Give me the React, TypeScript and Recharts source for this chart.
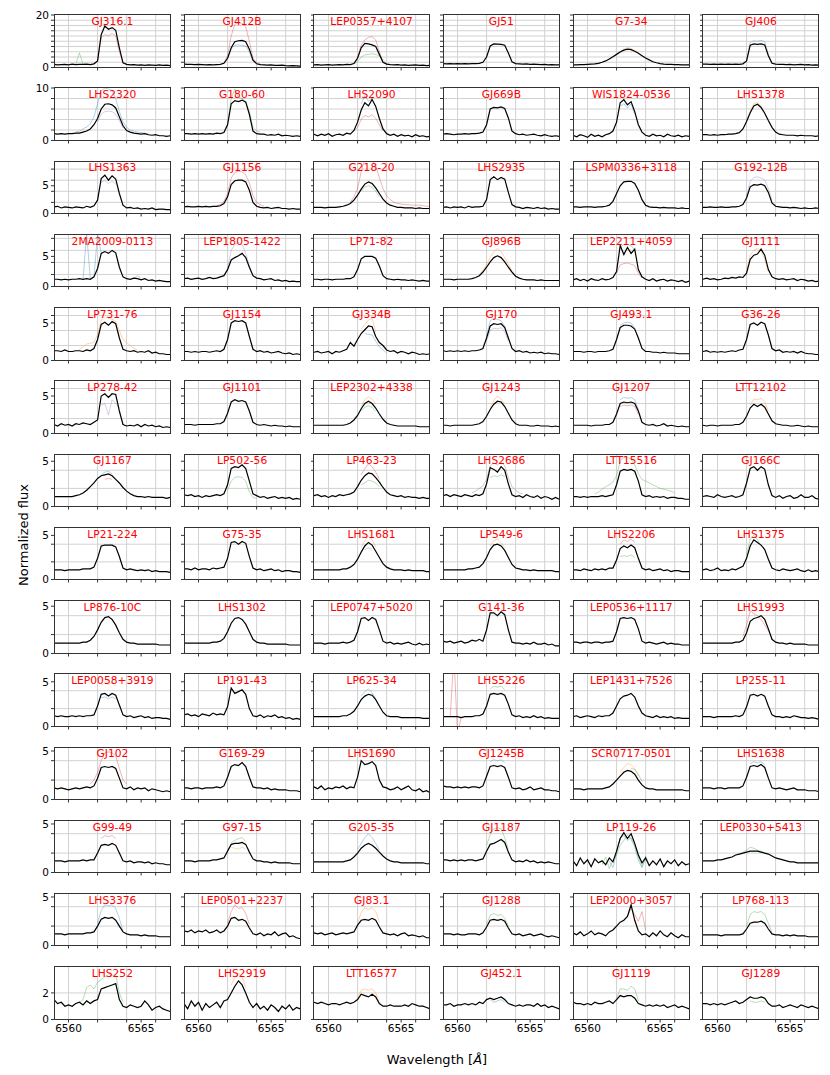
import { CartesianGrid, Line, LineChart, XAxis, YAxis } from 'recharts'

// wavelength grid shared by every panel (Angstrom)
const WAVE = [
  6559.0, 6559.25, 6559.5, 6559.75, 6560.0, 6560.25, 6560.5, 6560.75, 6561.0, 6561.25, 6561.5,
  6561.75, 6562.0, 6562.25, 6562.5, 6562.75, 6563.0, 6563.25, 6563.5, 6563.75, 6564.0, 6564.25,
  6564.5, 6564.75, 6565.0, 6565.25, 6565.5, 6565.75, 6566.0, 6566.25, 6566.5, 6566.75, 6567.0,
]

const STARS_R01 = ['GJ316.1', 'GJ412B', 'LEP0357+4107', 'GJ51', 'G7-34', 'GJ406']
const STARS_R02 = ['LHS2320', 'G180-60', 'LHS2090', 'GJ669B', 'WIS1824-0536', 'LHS1378']
const STARS_R03 = ['LHS1363', 'GJ1156', 'G218-20', 'LHS2935', 'LSPM0336+3118', 'G192-12B']
const STARS_R04 = ['2MA2009-0113', 'LEP1805-1422', 'LP71-82', 'GJ896B', 'LEP2211+4059', 'GJ1111']
const STARS_R05 = ['LP731-76', 'GJ1154', 'GJ334B', 'GJ170', 'GJ493.1', 'G36-26']
const STARS_R06 = ['LP278-42', 'GJ1101', 'LEP2302+4338', 'GJ1243', 'GJ1207', 'LTT12102']
const STARS_R07 = ['GJ1167', 'LP502-56', 'LP463-23', 'LHS2686', 'LTT15516', 'GJ166C']
const STARS_R08 = ['LP21-224', 'G75-35', 'LHS1681', 'LP549-6', 'LHS2206', 'LHS1375']
const STARS_R09 = ['LP876-10C', 'LHS1302', 'LEP0747+5020', 'G141-36', 'LEP0536+1117', 'LHS1993']
const STARS_R10 = ['LEP0058+3919', 'LP191-43', 'LP625-34', 'LHS5226', 'LEP1431+7526', 'LP255-11']
const STARS_R11 = ['GJ102', 'G169-29', 'LHS1690', 'GJ1245B', 'SCR0717-0501', 'LHS1638']
const STARS_R12 = ['G99-49', 'G97-15', 'G205-35', 'GJ1187', 'LP119-26', 'LEP0330+5413']
const STARS_R13 = ['LHS3376', 'LEP0501+2237', 'GJ83.1', 'GJ1288', 'LEP2000+3057', 'LP768-113']
const STARS_R14 = ['LHS252', 'LHS2919', 'LTT16577', 'GJ452.1', 'GJ1119', 'GJ1289']

// mean normalized flux (black curve), one list per star, on WAVE
const FLUX_R01 = [
  [1.2,1.0,1.1,1.2,1.0,1.3,1.1,1.2,1.2,1.3,1.1, 1.4,2.5,12.5,15.8,14.6,15.2,14.2,7.5,1.8,1.2,1.0, 1.1,0.9,1.0,0.8,1.0,0.9,0.8,1.0,0.8,0.9,0.7],
  [1.3,1.2,1.2,1.1,1.2,1.1,1.0,1.1,1.0,1.1,1.2, 1.6,3.5,7.5,9.8,10.2,10.3,9.8,7.0,2.8,1.4,1.1, 1.0,0.9,1.0,0.8,0.8,0.9,0.7,0.6,0.7,0.6,0.5],
  [1.0,1.1,0.9,1.0,1.1,0.9,1.0,1.1,1.0,1.2,1.1, 1.5,3.5,7.5,9.2,9.0,8.6,8.0,5.0,2.0,1.3,1.1, 1.0,1.1,0.9,1.0,0.8,0.9,1.0,0.8,0.9,0.7,0.8],
  [1.5,1.4,1.5,1.4,1.5,1.4,1.5,1.4,1.5,1.5,1.6, 2.0,4.0,8.2,9.0,8.9,8.8,8.5,5.5,2.2,1.5,1.4, 1.3,1.4,1.2,1.3,1.2,1.1,1.2,1.0,1.1,1.0,1.0],
  [1.0,1.0,1.1,1.1,1.2,1.3,1.4,1.6,2.0,2.5,3.2, 4.1,5.0,5.9,6.6,7.0,6.8,6.2,5.4,4.5,3.6,2.9, 2.2,1.8,1.5,1.3,1.2,1.2,1.1,1.1,1.0,1.0,1.0],
  [1.3,1.3,1.2,1.3,1.2,1.3,1.2,1.3,1.2,1.3,1.2, 1.4,2.5,8.5,9.0,8.8,9.0,8.6,4.5,1.6,1.3,1.2, 1.2,1.1,1.2,1.0,1.1,1.2,1.0,1.1,0.9,1.0,0.9],
]
const FLUX_R02 = [
  [1.3,1.2,1.3,1.2,1.3,1.3,1.4,1.4,1.6,1.8,2.2, 3.0,4.2,6.0,6.9,7.0,6.8,6.2,4.5,2.8,1.9,1.6, 1.4,1.3,1.2,1.3,1.1,1.0,1.1,0.9,0.9,0.8,0.9],
  [1.3,1.3,1.2,1.3,1.2,1.3,1.2,1.3,1.2,1.4,1.3, 1.5,3.0,7.0,7.6,7.4,7.7,7.3,5.0,1.8,1.3,1.2, 1.2,1.0,1.1,1.0,1.2,0.9,1.0,0.9,0.8,0.9,0.8],
  [1.2,0.9,1.2,1.0,1.3,0.8,1.1,1.2,1.0,1.4,1.2, 1.9,3.5,5.8,7.2,6.6,7.8,6.5,4.2,2.2,1.3,1.0, 1.2,0.8,1.1,0.9,1.0,0.7,1.1,0.8,0.9,0.7,0.8],
  [1.2,1.3,1.2,1.1,1.2,1.2,1.3,1.2,1.3,1.3,1.4, 1.6,3.0,6.0,6.3,6.2,6.4,6.1,4.3,1.8,1.3,1.1, 1.2,1.0,1.1,1.2,1.0,0.9,1.1,0.9,0.8,0.9,0.8],
  [1.0,0.7,1.1,0.9,0.6,1.2,0.8,1.0,0.7,1.1,1.3, 1.8,3.5,7.2,7.8,6.8,7.4,5.5,3.0,1.6,1.0,0.8, 1.2,0.9,1.0,0.7,1.2,0.9,0.8,1.0,0.7,0.9,0.8],
  [1.1,1.1,1.0,1.1,1.0,1.1,1.1,1.2,1.2,1.3,1.5, 2.2,3.6,5.3,6.6,6.9,6.3,5.2,3.8,2.5,1.6,1.2, 1.1,1.0,1.0,1.0,0.9,1.0,0.9,0.9,0.9,0.8,0.9],
]
const FLUX_R03 = [
  [1.2,1.3,1.0,1.2,1.1,1.0,1.2,1.1,1.0,1.3,1.1, 1.4,2.4,6.3,6.9,6.0,6.8,6.2,3.6,1.5,1.0,1.1, 0.9,1.0,0.8,0.9,0.8,1.0,0.7,0.8,0.8,0.7,0.7],
  [1.2,1.3,1.2,1.2,1.3,1.2,1.3,1.2,1.3,1.3,1.4, 1.8,3.0,5.2,5.9,6.0,6.0,5.7,4.2,2.0,1.3,1.1, 1.0,1.1,0.9,1.0,1.1,0.9,0.9,0.8,0.9,0.8,0.8],
  [1.1,1.1,1.1,1.0,1.1,1.1,1.1,1.2,1.3,1.5,1.8, 2.4,3.3,4.4,5.3,5.7,5.4,4.6,3.6,2.6,1.9,1.5, 1.3,1.1,1.1,1.0,1.0,1.0,0.9,1.0,0.9,0.9,0.9],
  [1.1,1.2,1.0,1.2,1.1,1.2,1.0,1.3,1.1,1.2,1.2, 1.3,2.5,6.1,6.6,6.1,6.5,6.2,3.8,1.6,1.2,1.1, 0.9,1.1,1.0,0.9,1.1,0.9,1.0,0.8,0.9,0.8,0.8],
  [1.2,1.2,1.1,1.2,1.2,1.2,1.1,1.2,1.2,1.3,1.5, 2.2,3.6,5.0,5.7,5.8,5.8,5.4,4.2,2.5,1.5,1.2, 1.1,1.1,1.0,1.1,1.0,1.0,1.0,0.9,1.0,0.9,0.9],
  [1.1,1.1,1.2,1.1,1.1,1.2,1.1,1.1,1.2,1.2,1.3, 1.6,2.8,4.8,5.2,5.1,5.3,5.0,3.8,1.9,1.3,1.2, 1.1,1.1,1.0,1.1,1.0,0.9,1.0,0.9,0.9,1.0,0.9],
]
const FLUX_R04 = [
  [1.2,1.2,1.1,1.2,1.1,1.2,1.2,1.3,1.2,1.3,1.2, 1.6,3.0,5.5,5.8,5.5,6.0,5.6,3.2,1.6,1.3,1.2, 1.4,1.3,1.1,1.3,1.0,1.1,0.9,1.0,0.9,0.8,0.8],
  [1.3,1.4,1.2,1.3,1.4,1.2,1.3,1.5,1.3,1.4,1.6, 1.8,2.8,4.4,4.8,5.1,5.5,4.8,3.2,1.8,1.4,1.3, 1.1,1.2,1.3,1.0,1.1,0.9,1.0,0.8,0.9,0.8,0.8],
  [1.2,1.2,1.1,1.2,1.2,1.1,1.2,1.2,1.2,1.3,1.3, 1.6,2.8,4.6,5.0,5.0,5.0,4.7,3.4,1.8,1.3,1.2, 1.1,1.2,1.1,1.1,1.0,1.1,1.0,0.9,1.0,0.9,0.9],
  [1.2,1.2,1.2,1.1,1.2,1.2,1.2,1.2,1.3,1.5,1.8, 2.4,3.2,4.1,4.8,5.1,4.8,4.1,3.2,2.4,1.7,1.4, 1.2,1.1,1.1,1.1,1.0,1.1,1.0,1.0,1.0,1.0,1.0],
  [1.1,1.3,1.0,1.2,0.9,1.3,1.1,1.0,1.3,1.1,1.2, 1.5,2.5,6.8,5.3,6.5,5.5,6.2,2.8,1.6,1.2,1.0, 1.3,0.9,1.1,1.2,0.9,1.1,1.0,0.8,1.0,0.7,0.9],
  [1.2,1.4,1.2,1.3,1.1,1.2,1.4,1.3,1.5,1.4,1.6, 1.5,2.2,4.5,5.2,5.4,6.2,5.2,2.8,1.6,1.3,1.2, 1.3,1.1,1.2,1.3,1.0,1.2,1.1,0.9,1.0,0.8,0.9],
]
const FLUX_R05 = [
  [1.3,1.3,1.2,1.4,1.2,1.2,1.3,1.3,1.2,1.4,1.3, 1.6,2.8,4.8,5.1,4.7,5.2,4.9,3.0,1.5,1.3,1.2, 1.3,1.1,1.2,1.1,1.3,1.0,1.1,0.9,0.9,0.8,0.8],
  [1.2,1.2,1.1,1.2,1.1,1.2,1.2,1.1,1.2,1.3,1.2, 1.5,2.8,5.0,5.3,5.2,5.3,5.0,3.2,1.5,1.2,1.3, 1.1,1.2,1.0,1.1,1.2,1.0,0.9,1.0,0.8,0.9,0.8],
  [1.1,1.2,1.0,1.1,1.2,0.9,1.2,1.1,1.3,1.5,2.4, 1.9,2.8,3.6,4.1,4.6,4.5,3.2,2.4,2.0,1.4,1.2, 1.3,1.0,1.2,1.1,0.9,1.1,1.0,0.8,0.9,0.8,0.9],
  [1.3,1.2,1.3,1.2,1.3,1.2,1.3,1.2,1.3,1.3,1.4, 1.6,3.0,4.6,4.9,4.8,4.9,4.4,3.0,1.6,1.2,1.3, 1.1,1.2,1.0,1.1,1.0,1.1,0.9,1.0,0.9,0.9,0.8],
  [1.2,1.2,1.2,1.1,1.2,1.2,1.1,1.2,1.2,1.2,1.3, 1.5,2.8,4.4,4.7,4.7,4.6,4.2,3.0,1.6,1.2,1.2, 1.1,1.1,1.0,1.1,1.0,1.0,1.0,0.9,0.9,0.9,0.9],
  [1.2,1.3,1.1,1.2,1.1,1.2,1.1,1.2,1.3,1.2,1.4, 1.5,2.8,4.8,5.0,4.7,5.1,4.9,3.4,1.6,1.3,1.4, 1.1,1.2,1.1,1.2,1.0,1.2,1.0,0.9,0.9,0.8,0.8],
]
const FLUX_R06 = [
  [1.2,1.0,1.3,1.1,1.2,1.0,1.3,1.2,1.4,1.3,1.2, 1.5,1.8,5.0,5.3,4.8,5.3,5.2,3.0,1.2,1.0,1.1, 1.0,1.2,0.9,1.2,1.0,1.1,0.9,1.0,0.8,0.9,0.8],
  [1.2,1.2,1.2,1.1,1.2,1.2,1.2,1.2,1.2,1.3,1.3, 1.6,2.7,4.2,4.5,4.3,4.4,4.2,3.0,1.5,1.2,1.1, 1.2,1.1,1.0,1.1,1.0,1.0,0.9,1.0,0.9,0.9,0.9],
  [1.1,1.1,1.1,1.1,1.1,1.1,1.1,1.1,1.1,1.2,1.4, 1.8,2.4,3.3,4.0,4.3,4.0,3.4,2.6,1.9,1.4,1.2, 1.1,1.0,1.0,1.0,1.0,1.0,1.0,0.9,0.9,0.9,0.9],
  [1.1,1.1,1.0,1.1,1.1,1.1,1.1,1.1,1.1,1.2,1.3, 1.6,2.3,3.2,3.9,4.3,4.2,3.6,2.7,1.8,1.3,1.1, 1.1,1.1,1.0,1.0,1.1,1.0,1.0,1.0,0.9,1.0,0.9],
  [1.1,1.1,1.1,1.1,1.1,1.0,1.1,1.1,1.1,1.2,1.2, 1.5,2.6,4.0,4.2,4.1,4.2,4.0,3.0,1.5,1.2,1.1, 1.2,1.0,1.1,1.3,1.0,1.1,1.0,0.9,1.0,0.9,0.9],
  [1.1,1.0,1.1,1.1,1.0,1.1,1.1,1.1,1.1,1.2,1.2, 1.5,2.3,3.4,3.9,3.6,3.9,3.5,2.6,1.7,1.3,1.2, 1.1,1.1,1.0,1.0,1.1,1.0,0.9,1.0,0.9,0.9,0.9],
]
const FLUX_R07 = [
  [1.1,1.1,1.1,1.1,1.1,1.1,1.2,1.3,1.5,1.8,2.2, 2.6,3.1,3.4,3.5,3.6,3.4,3.0,2.6,2.1,1.7,1.4, 1.2,1.1,1.1,1.0,1.1,1.0,1.0,1.0,1.0,0.9,1.0],
  [1.3,1.2,1.3,1.1,1.2,1.0,1.2,1.1,1.2,1.3,1.2, 1.4,2.4,4.2,4.4,4.3,4.6,4.2,2.8,1.4,1.2,1.0, 1.1,0.9,1.0,1.1,0.9,1.0,0.9,1.0,0.8,0.9,0.8],
  [1.2,1.3,1.1,1.2,1.0,1.2,1.1,1.3,1.2,1.3,1.4, 1.6,2.2,2.9,3.4,3.7,3.6,3.2,2.7,2.1,1.6,1.3, 1.2,1.1,1.2,1.0,1.1,1.0,1.0,0.9,1.0,0.9,0.9],
  [1.2,1.3,1.1,1.3,1.2,1.1,1.3,1.2,1.1,1.3,1.2, 1.4,2.5,4.3,4.1,3.8,4.4,4.0,2.5,1.3,1.1,1.2, 1.0,1.3,1.1,1.0,1.2,0.9,1.1,1.0,0.8,1.0,0.8],
  [1.1,1.1,1.0,1.1,1.0,1.1,1.1,1.1,1.2,1.1,1.2, 1.3,2.4,3.9,4.1,4.0,4.1,3.9,2.8,1.3,1.1,1.2, 1.0,1.1,1.0,1.1,0.9,1.0,1.0,0.9,0.9,0.8,0.8],
  [1.1,1.2,1.1,1.0,1.3,1.1,1.0,1.1,1.2,1.0,1.1, 1.3,2.6,4.2,4.4,4.0,4.4,4.1,2.4,1.2,1.0,1.2, 0.9,1.1,1.2,0.9,1.0,1.3,1.0,1.0,1.2,0.9,0.8],
]
const FLUX_R08 = [
  [1.1,1.1,1.1,1.0,1.1,1.1,1.1,1.1,1.2,1.2,1.2, 1.4,2.4,3.8,3.9,3.9,3.9,3.7,2.6,1.3,1.1,1.2, 1.1,1.0,1.1,1.0,1.1,0.9,1.0,0.9,0.9,0.9,0.8],
  [1.2,1.2,1.1,1.3,1.1,1.2,1.2,1.1,1.3,1.2,1.3, 1.4,2.4,4.2,4.3,4.0,4.3,4.1,2.6,1.3,1.1,1.2, 1.0,1.1,1.2,1.0,1.1,0.9,1.0,1.0,0.9,0.9,0.8],
  [1.1,1.1,1.1,1.1,1.1,1.1,1.1,1.1,1.2,1.2,1.4, 1.7,2.3,3.1,3.8,4.2,3.9,3.2,2.5,1.8,1.4,1.2, 1.1,1.1,1.1,1.0,1.1,1.0,1.0,1.0,1.0,0.9,0.9],
  [1.1,1.1,1.1,1.1,1.1,1.1,1.1,1.2,1.2,1.3,1.4, 1.8,2.5,3.4,3.9,4.0,3.8,3.3,2.5,1.7,1.3,1.2, 1.1,1.1,1.0,1.1,1.0,1.0,1.0,1.0,1.0,0.9,0.9],
  [1.1,1.1,1.0,1.2,1.1,1.0,1.2,1.1,1.2,1.1,1.3, 1.3,2.2,3.5,3.8,3.6,3.9,3.6,2.4,1.3,1.1,1.2, 1.0,1.1,1.2,1.0,1.1,0.9,1.0,1.0,0.9,0.9,0.9],
  [1.1,1.2,1.0,1.1,1.3,1.0,1.1,1.0,1.2,1.1,1.3, 1.5,2.4,3.8,4.5,4.2,3.9,3.4,2.3,1.3,1.1,1.0, 1.2,1.1,1.0,1.1,1.2,1.0,0.9,1.1,0.9,1.0,0.9],
]
const FLUX_R09 = [
  [1.1,1.1,1.1,1.1,1.1,1.1,1.1,1.1,1.2,1.2,1.4, 1.8,2.5,3.3,3.8,3.9,3.6,3.0,2.2,1.5,1.2,1.1, 1.1,1.0,1.0,1.0,1.0,1.0,1.0,0.9,0.9,0.9,0.9],
  [1.1,1.1,1.1,1.1,1.1,1.1,1.1,1.1,1.2,1.2,1.3, 1.6,2.3,3.2,3.7,3.8,3.6,3.1,2.3,1.5,1.2,1.1, 1.1,1.0,1.0,1.0,1.0,1.0,1.0,0.9,0.9,0.9,0.9],
  [1.1,1.1,1.1,1.0,1.1,1.1,1.1,1.1,1.2,1.1,1.2, 1.4,2.3,3.7,3.8,3.5,3.8,3.6,2.5,1.3,1.1,1.2, 1.0,1.1,1.0,1.1,1.2,1.0,0.9,1.1,0.9,1.0,0.9],
  [1.3,1.2,1.3,1.1,1.2,1.3,1.1,1.2,1.4,1.3,1.5, 1.3,2.5,4.3,4.3,4.0,4.4,4.1,2.5,1.2,1.1,1.1, 1.0,1.1,1.0,1.2,1.0,1.0,1.1,0.9,1.0,0.8,0.8],
  [1.2,1.2,1.1,1.2,1.2,1.1,1.2,1.2,1.1,1.2,1.2, 1.3,2.3,3.7,3.8,3.7,3.8,3.6,2.6,1.3,1.1,1.2, 1.1,1.0,1.1,1.2,1.0,1.1,1.0,1.0,0.9,0.9,0.9],
  [1.1,1.1,1.1,1.1,1.1,1.1,1.1,1.1,1.1,1.2,1.2, 1.4,2.2,3.4,3.7,3.8,4.0,3.6,2.6,1.5,1.2,1.1, 1.1,1.0,1.1,1.0,1.0,1.0,1.0,0.9,0.9,0.9,0.9],
]
const FLUX_R10 = [
  [1.2,1.1,1.2,1.1,1.1,1.2,1.1,1.2,1.1,1.2,1.2, 1.3,2.3,3.6,3.7,3.4,3.7,3.5,2.4,1.3,1.1,1.2, 1.0,1.1,1.2,1.0,1.1,0.9,1.0,1.0,0.9,0.9,0.8],
  [1.3,1.4,1.2,1.3,1.1,1.4,1.3,1.2,1.5,1.3,1.4, 1.3,2.2,4.3,3.7,3.9,4.1,3.6,2.0,1.2,1.1,1.3, 1.0,1.2,1.1,1.3,1.0,1.1,0.9,1.0,0.8,0.9,0.8],
  [1.1,1.1,1.1,1.1,1.1,1.1,1.1,1.1,1.2,1.2,1.4, 1.7,2.3,3.0,3.4,3.6,3.5,3.0,2.3,1.6,1.2,1.1, 1.1,1.1,1.0,1.0,1.0,1.0,1.0,1.0,0.9,0.9,0.9],
  [1.1,1.1,1.1,1.1,1.1,1.0,1.1,1.1,1.1,1.2,1.2, 1.4,2.3,3.6,3.7,3.6,3.7,3.5,2.5,1.3,1.1,1.2, 1.0,1.1,1.0,1.2,1.0,1.1,0.9,1.0,0.9,0.9,0.9],
  [1.1,1.2,1.0,1.1,1.2,1.1,1.0,1.2,1.1,1.2,1.2, 1.5,2.3,3.1,3.4,3.5,3.7,3.3,2.3,1.5,1.2,1.1, 1.0,1.2,1.0,1.1,1.0,1.1,0.9,1.0,0.9,0.9,0.9],
  [1.1,1.1,1.1,1.0,1.1,1.1,1.1,1.1,1.1,1.2,1.1, 1.3,2.2,3.5,3.6,3.4,3.6,3.4,2.3,1.3,1.1,1.1, 1.0,1.1,1.0,1.2,1.1,1.0,1.0,0.9,1.0,0.9,0.8],
]
const FLUX_R11 = [
  [1.2,1.1,1.2,1.1,1.0,1.1,1.2,1.1,1.2,1.3,1.2, 1.4,2.2,3.3,3.4,3.3,3.4,3.2,2.2,1.2,1.1,1.3, 1.0,1.2,1.1,1.2,0.9,1.1,1.0,0.9,0.8,0.9,0.8],
  [1.2,1.2,1.1,1.2,1.2,1.1,1.2,1.2,1.2,1.3,1.2, 1.4,2.3,3.4,3.6,3.5,3.8,3.4,2.3,1.3,1.2,1.2, 1.1,1.2,1.0,1.1,1.0,1.0,1.0,0.9,0.9,0.9,0.8],
  [1.3,1.1,1.4,1.0,1.2,1.1,1.3,1.2,1.4,1.1,1.3, 1.2,2.3,4.0,3.6,3.7,3.9,3.5,2.0,1.3,1.2,1.0, 1.1,1.3,1.0,1.2,1.4,1.0,0.9,1.1,0.8,0.9,0.7],
  [1.4,1.3,1.3,1.2,1.3,1.2,1.3,1.2,1.3,1.3,1.2, 1.4,2.4,3.4,3.5,3.4,3.5,3.3,2.3,1.2,1.1,1.2, 1.0,1.1,1.3,1.0,1.1,1.2,1.0,1.0,0.9,0.9,0.8],
  [1.1,1.1,1.1,1.0,1.1,1.1,1.1,1.1,1.1,1.2,1.3, 1.6,2.0,2.4,2.8,3.0,2.9,2.6,2.0,1.5,1.2,1.1, 1.1,1.0,1.0,1.0,1.0,1.0,1.0,1.0,1.0,0.9,0.9],
  [1.2,1.2,1.2,1.1,1.2,1.2,1.1,1.2,1.2,1.2,1.2, 1.4,2.3,3.4,3.5,3.4,3.6,3.3,2.2,1.2,1.1,1.2, 1.1,1.0,1.1,1.2,1.0,1.0,1.0,0.9,0.9,0.9,0.8],
]
const FLUX_R12 = [
  [1.2,1.2,1.2,1.1,1.2,1.2,1.2,1.2,1.3,1.2,1.3, 1.3,2.0,2.8,2.9,2.8,3.0,2.8,2.0,1.2,1.1,1.2, 1.0,1.1,1.1,1.0,1.1,0.9,1.0,0.9,0.9,0.8,0.8],
  [1.2,1.2,1.2,1.1,1.2,1.2,1.2,1.2,1.3,1.3,1.4, 1.5,2.2,2.9,3.0,3.0,3.1,2.9,2.1,1.4,1.2,1.2, 1.1,1.1,1.0,1.1,1.0,1.0,1.0,1.0,0.9,0.9,0.9],
  [1.1,1.1,1.1,1.1,1.1,1.1,1.1,1.1,1.1,1.2,1.3, 1.6,2.0,2.5,2.8,3.0,2.8,2.5,2.1,1.7,1.4,1.2, 1.1,1.1,1.0,1.0,1.0,1.0,1.0,1.0,1.0,0.9,0.9],
  [1.3,1.3,1.2,1.3,1.2,1.3,1.2,1.3,1.3,1.2,1.3, 1.4,2.2,2.9,3.0,3.2,3.4,3.1,2.1,1.3,1.1,1.2, 1.1,1.3,1.1,1.2,1.0,1.1,1.0,1.1,1.0,0.9,0.9],
  [1.2,0.7,1.5,0.9,1.3,0.6,1.4,1.0,1.2,0.8,1.5, 1.1,2.2,3.5,4.1,3.5,4.0,3.0,1.8,1.0,1.5,0.7, 1.2,0.8,1.4,0.6,1.2,0.9,1.3,0.7,1.1,0.8,0.9],
  [1.2,1.2,1.2,1.2,1.3,1.3,1.4,1.5,1.6,1.8,1.9, 2.0,2.1,2.2,2.2,2.2,2.1,2.0,1.9,1.7,1.5,1.4, 1.3,1.2,1.1,1.1,1.0,1.0,1.0,1.0,1.0,1.0,1.0],
]
const FLUX_R13 = [
  [1.2,1.2,1.2,1.1,1.2,1.2,1.2,1.2,1.2,1.3,1.3, 1.4,2.0,2.7,2.9,2.8,2.9,2.6,2.0,1.4,1.2,1.1, 1.1,1.1,1.0,1.1,1.0,1.0,1.0,0.9,0.9,0.9,0.9],
  [1.5,1.4,1.6,1.3,1.5,1.4,1.6,1.3,1.4,1.6,1.3, 1.5,2.0,2.8,2.9,2.6,2.7,2.5,1.8,1.2,1.1,1.3, 1.0,1.2,1.1,1.4,1.0,1.2,1.3,0.9,1.0,0.8,0.7],
  [1.3,1.2,1.3,1.1,1.2,1.3,1.1,1.2,1.3,1.2,1.3, 1.4,2.1,2.6,2.7,2.6,2.8,2.6,1.9,1.3,1.2,1.1, 1.2,1.0,1.2,1.3,1.0,1.1,1.0,0.9,1.0,0.8,0.8],
  [1.2,1.2,1.2,1.1,1.2,1.1,1.1,1.2,1.2,1.2,1.1, 1.3,1.9,2.6,2.7,2.6,2.7,2.5,1.8,1.2,1.1,1.2, 1.0,1.1,1.2,1.0,1.1,1.2,1.0,0.9,1.0,0.9,0.8],
  [1.3,1.1,1.4,1.0,1.2,1.5,1.1,1.3,1.2,1.0,1.4, 1.6,2.0,2.4,2.6,3.0,4.2,2.6,1.5,1.1,1.2,0.9, 1.3,1.0,1.5,1.1,0.9,1.3,1.0,0.8,1.1,0.9,0.9],
  [1.1,1.1,1.1,1.1,1.1,1.0,1.1,1.1,1.1,1.1,1.1, 1.2,1.7,2.3,2.4,2.4,2.5,2.3,1.7,1.2,1.1,1.1, 1.0,1.1,1.0,1.1,1.0,1.0,1.0,0.9,0.9,0.9,0.9],
]
const FLUX_R14 = [
  [1.5,1.2,1.3,1.0,1.1,1.0,1.2,1.3,1.1,1.4,1.2, 1.4,1.5,2.3,2.4,2.5,2.6,2.7,1.5,1.0,0.9,1.1, 1.0,0.9,1.0,1.4,1.1,0.7,0.9,1.0,0.8,0.7,0.6],
  [1.2,0.8,1.4,1.0,1.3,0.7,1.2,0.9,1.1,1.3,0.9, 1.4,1.5,2.0,2.5,2.9,2.6,2.0,1.3,0.9,1.2,0.8, 1.0,0.7,1.1,0.9,0.6,1.0,0.8,1.1,0.7,0.9,0.8],
  [1.3,1.2,1.3,1.2,1.1,1.2,1.2,1.1,1.2,1.3,1.2, 1.3,1.5,1.9,1.8,1.7,1.9,1.7,1.2,1.0,1.0,1.1, 1.0,1.0,1.0,1.1,1.0,1.2,1.1,1.0,1.0,0.9,0.8],
  [1.1,1.1,1.2,1.0,1.1,1.1,1.2,1.1,1.2,1.1,1.3, 1.2,1.5,1.6,1.5,1.6,1.7,1.5,1.2,1.1,1.0,1.1, 1.0,1.1,1.1,1.0,1.2,1.0,1.1,0.9,1.0,0.9,0.8],
  [1.3,1.2,1.2,1.1,1.2,1.1,1.3,1.2,1.2,1.3,1.4, 1.2,1.5,1.8,1.7,1.8,1.8,1.6,1.2,1.1,1.0,1.1, 1.0,1.1,1.0,1.1,0.9,1.0,1.1,0.9,1.0,0.9,0.8],
  [1.2,1.2,1.1,1.2,1.1,1.2,1.1,1.2,1.3,1.4,1.2, 1.3,1.5,1.7,1.6,1.6,1.7,1.6,1.2,1.0,1.0,1.1, 0.9,1.0,1.1,1.0,0.9,1.1,1.0,0.9,1.0,0.9,0.8],
]

const STAR_ROWS = [STARS_R01, STARS_R02, STARS_R03, STARS_R04, STARS_R05, STARS_R06, STARS_R07, STARS_R08, STARS_R09, STARS_R10, STARS_R11, STARS_R12, STARS_R13, STARS_R14]
const FLUX_ROWS = [FLUX_R01, FLUX_R02, FLUX_R03, FLUX_R04, FLUX_R05, FLUX_R06, FLUX_R07, FLUX_R08, FLUX_R09, FLUX_R10, FLUX_R11, FLUX_R12, FLUX_R13, FLUX_R14]

const BLUE = '#1f77b4'
const ORANGE = '#ff7f0e'
const GREEN = '#2ca02c'
const RED = '#d62728'
const PURPLE = '#9467bd'
const BROWN = '#8c564b'
const OLIVE = '#bcbd22'

// individual epochs that stand out from the mean: [star, colour, first WAVE index, flux]
const EXTRA_LINES: [string, string, number, number[]][] = [
  ['GJ316.1', GREEN, 6, [1.2, 5.6, 1.3]],
  ['GJ316.1', RED, 11, [1.4, 2.4, 11.5, 12.5, 12.0, 13.0, 12.0, 6.0, 1.8, 1.2]],
  ['GJ412B', RED, 11, [1.8, 4.5, 12, 16.5, 17, 16.8, 15.5, 10, 3.5, 1.8, 1.3]],
  ['GJ412B', BLUE, 12, [3.2, 7.0, 8.5, 8.6, 8.4, 8.2, 6.0, 2.5]],
  ['LEP0357+4107', RED, 11, [1.6, 3.8, 8.5, 10.5, 11.5, 11.8, 10.5, 6.0, 2.0, 1.3]],
  ['LEP0357+4107', GREEN, 11, [1.4, 2.2, 4.0, 4.8, 5.0, 5.2, 5.0, 4.5, 3.0, 1.5, 1.1]],
  ['G7-34', ORANGE, 12, [5.2, 6.2, 7.0, 7.6, 7.2, 6.5, 5.6]],
  ['GJ406', BLUE, 12, [2.6, 9.5, 10.2, 10.0, 10.3, 9.8, 5.0, 1.7]],
  ['LHS2320', BLUE, 6, [1.6, 1.8, 2.2, 2.6, 3.2, 4.5, 7.0, 9.5, 10, 9.8, 9.5, 8.0, 5.5, 3.5, 2.5, 2.0, 1.8, 1.6, 1.5, 1.4, 1.3]],
  ['LHS2320', PURPLE, 12, [3.5, 5.0, 5.5, 5.6, 5.5, 5.0, 3.8, 2.4]],
  ['G180-60', GREEN, 11, [1.6, 3.2, 8.0, 9.8, 8.2, 8.0, 7.5, 5.5, 2.5, 1.8, 1.6]],
  ['LHS2090', RED, 11, [1.7, 2.5, 4.0, 4.8, 4.5, 4.9, 4.2, 3.0, 1.8]],
  ['LHS2090', BLUE, 13, [7.0, 8.5, 7.5, 8.0]],
  ['WIS1824-0536', BLUE, 13, [6.5, 7.0, 6.2, 7.0, 5.0]],
  ['LHS1378', ORANGE, 12, [3.8, 5.6, 7.0, 7.3, 6.5, 5.2]],
  ['LHS1363', PURPLE, 13, [5.6, 6.0, 5.4, 5.8, 5.3]],
  ['GJ1156', RED, 9, [1.4, 1.6, 2.2, 3.6, 6.4, 7.4, 7.6, 7.5, 7.0, 5.5, 3.2, 2.0, 1.6, 1.3]],
  ['G218-20', RED, 10, [2.0, 3.0, 4.5, 7.5, 9.8, 9.8, 9.8, 8.5, 6.5, 4.5, 3.2, 2.5, 2.0, 1.8, 1.7, 1.6, 1.6, 1.5, 1.5, 1.5, 1.4, 1.3, 1.3]],
  ['G218-20', GREEN, 13, [4.0, 4.8, 5.0, 4.7, 4.0, 3.0]],
  ['G192-12B', PURPLE, 12, [3.0, 5.8, 6.5, 6.6, 6.4, 6.0, 4.5, 2.4]],
  ['2MA2009-0113', BLUE, 8, [1.2, 8.8, 1.3, 1.5, 8.8, 5.6, 5.8]],
  ['2MA2009-0113', GREEN, 22, [1.3, 1.8, 1.4]],
  ['LEP1805-1422', PURPLE, 12, [3.0, 6.0, 7.0, 7.3, 7.0, 5.5, 3.5, 1.8]],
  ['GJ896B', ORANGE, 10, [2.0, 2.7, 3.7, 4.8, 5.8, 6.3, 5.8, 4.8, 3.7, 2.6, 1.8, 1.4]],
  ['LEP2211+4059', RED, 12, [2.2, 3.6, 3.8, 3.9, 3.7, 3.5, 2.2, 1.4]],
  ['LEP2211+4059', GREEN, 13, [6.5, 7.0, 7.0, 6.8, 6.0]],
  ['GJ1111', ORANGE, 12, [2.5, 5.2, 6.0, 6.3, 6.0, 4.5, 2.4]],
  ['LP731-76', ORANGE, 7, [1.5, 1.8, 2.2, 2.3, 2.4, 3.5, 5.4, 5.8, 5.6, 5.5, 5.2, 4.0, 2.8, 2.4, 2.0, 1.6, 1.4]],
  ['GJ334B', ORANGE, 13, [4.2, 4.8, 5.4, 5.6, 3.8]],
  ['GJ334B', BLUE, 14, [3.6, 3.5, 3.4, 2.6, 1.8, 1.4, 1.0]],
  ['GJ170', BLUE, 12, [3.2, 5.3, 5.6, 5.5, 5.3, 4.6, 3.0]],
  ['GJ170', PURPLE, 12, [2.6, 4.0, 4.3, 4.2, 4.4, 3.8, 2.6]],
  ['GJ493.1', BLUE, 13, [4.7, 5.0, 5.1, 5.0, 4.4]],
  ['LP278-42', PURPLE, 13, [3.8, 4.0, 2.5, 4.5, 4.0, 3.5]],
  ['LEP2302+4338', ORANGE, 13, [3.6, 4.5, 4.9, 4.6, 3.9]],
  ['LEP2302+4338', GREEN, 13, [3.0, 3.5, 3.7, 3.5, 3.0]],
  ['GJ1243', ORANGE, 13, [3.5, 4.4, 5.0, 4.6, 3.9]],
  ['GJ1207', BLUE, 13, [4.5, 4.8, 4.7, 4.8, 4.5, 3.2]],
  ['GJ1207', RED, 13, [3.6, 3.8, 3.7, 3.8, 3.6, 2.6]],
  ['LTT12102', ORANGE, 13, [3.8, 4.6, 4.5, 4.7, 4.2, 3.0]],
  ['GJ1167', BLUE, 13, [3.5, 3.8, 3.9, 3.6]],
  ['GJ1167', RED, 14, [3.0, 3.1, 3.0]],
  ['LP502-56', GREEN, 12, [1.8, 2.8, 3.2, 3.3, 3.2, 2.8, 1.6, 1.0, 0.9]],
  ['LP463-23', RED, 13, [3.5, 4.2, 4.7, 4.4, 3.8, 3.0]],
  ['LP463-23', GREEN, 13, [2.4, 2.6, 2.9, 2.8, 2.6, 2.2]],
  ['LHS2686', BROWN, 8, [1.5, 1.7, 2.0, 2.3, 3.0, 4.5, 4.8, 4.6, 4.9, 4.5, 3.2, 2.2, 1.8, 1.5, 1.4]],
  ['LHS2686', GREEN, 13, [3.2, 3.4, 3.3, 3.5, 3.3]],
  ['LTT15516', GREEN, 6, [1.4, 1.6, 1.9, 2.2, 2.4, 2.7, 3.4, 5.0, 5.5, 5.4, 5.3, 4.6, 3.6, 3.0, 2.8, 2.6, 2.4, 2.2, 2.0, 1.9, 1.8, 1.7, 1.5]],
  ['LHS1681', ORANGE, 13, [3.6, 4.4, 4.9, 4.5, 3.7]],
  ['LHS1681', BLUE, 14, [3.4, 3.6, 3.4]],
  ['LP549-6', ORANGE, 13, [3.8, 4.4, 4.6, 4.2, 3.6]],
  ['LHS2206', GREEN, 13, [2.6, 2.7, 2.6, 2.8, 2.5]],
  ['LHS2206', RED, 13, [4.0, 4.5, 4.3, 4.6, 4.2]],
  ['LHS1375', GREEN, 12, [2.8, 4.6, 5.0, 4.5, 3.8]],
  ['LEP0058+3919', ORANGE, 13, [4.6, 4.9, 4.7, 4.9, 4.5]],
  ['LEP0058+3919', BLUE, 13, [3.2, 3.3, 3.1, 3.3, 3.1]],
  ['LP625-34', BLUE, 13, [3.4, 3.9, 4.2, 3.8, 3.1]],
  ['LHS5226', RED, 2, [1.1, 8.0, -1.0, 1.1]],
  ['LHS5226', GREEN, 13, [4.2, 4.5, 4.4, 4.5, 4.1]],
  ['LHS1993', RED, 11, [1.8, 3.0, 4.5, 4.2, 4.0, 3.6, 3.0, 2.4, 1.6]],
  ['GJ102', RED, 10, [1.6, 2.0, 2.8, 4.0, 4.8, 4.9, 4.8, 4.5, 3.2, 2.0, 1.6]],
  ['LHS1690', ORANGE, 13, [4.8, 5.2, 4.6, 5.2, 4.4]],
  ['GJ1245B', BLUE, 13, [3.9, 4.1, 4.0, 4.1, 3.8]],
  ['SCR0717-0501', ORANGE, 13, [2.8, 3.3, 3.7, 3.6, 3.2, 2.4]],
  ['SCR0717-0501', GREEN, 16, [3.2, 3.1, 2.6, 1.9]],
  ['LHS1638', BLUE, 13, [3.7, 3.9, 3.8, 3.9, 3.6]],
  ['G99-49', RED, 13, [3.5, 3.8, 3.7, 3.8, 3.5]],
  ['G97-15', GREEN, 13, [3.1, 3.3, 3.5, 3.6, 3.2]],
  ['G97-15', OLIVE, 13, [2.6, 2.5, 2.4, 2.6, 2.4]],
  ['G205-35', BLUE, 12, [2.4, 3.0, 3.6, 4.0, 3.6, 3.0, 2.3]],
  ['GJ1187', GREEN, 12, [2.8, 3.9, 4.5, 4.6, 4.5, 3.6, 2.4]],
  ['LP119-26', BLUE, 10, [1.2, 0.5, 2.0, 3.6, 3.8, 3.3, 3.6, 2.8, 1.6, 0.6, 1.4]],
  ['LP119-26', GREEN, 8, [0.8, 1.6, 0.4, 1.3, 1.8, 2.8, 3.3, 3.9, 3.4, 2.6, 1.2, 0.5, 1.7, 0.8]],
  ['LEP0330+5413', GREEN, 11, [2.1, 2.3, 2.6, 2.5, 2.3, 2.2, 2.0]],
  ['LHS3376', BLUE, 12, [2.3, 3.6, 4.2, 4.1, 4.2, 3.8, 2.8, 1.5]],
  ['LEP0501+2237', RED, 12, [2.3, 3.5, 4.2, 3.8, 3.9, 3.3, 2.2]],
  ['GJ83.1', ORANGE, 12, [2.3, 3.4, 3.9, 3.7, 3.9, 3.5, 2.4]],
  ['GJ1288', GREEN, 12, [2.2, 3.1, 3.3, 3.1, 3.2, 2.8, 2.0]],
  ['LEP2000+3057', RED, 15, [3.0, 3.8, 3.2, 2.5, 3.5, 1.6]],
  ['LP768-113', GREEN, 12, [2.0, 3.2, 3.5, 3.4, 3.5, 3.2, 2.3, 1.3]],
  ['LHS252', GREEN, 6, [1.2, 1.3, 1.5, 2.4, 2.6, 2.3, 2.8, 3.0, 3.2, 3.4, 3.3, 3.4, 2.0, 1.3]],
  ['LHS2919', ORANGE, 13, [2.6, 3.2, 3.5, 3.2, 2.4]],
  ['LTT16577', ORANGE, 12, [1.6, 2.2, 2.3, 2.2, 2.3, 2.0, 1.3]],
  ['GJ452.1', BLUE, 13, [1.5, 1.3, 1.4, 1.5, 1.3]],
  ['GJ1119', GREEN, 12, [1.6, 2.3, 2.3, 2.2, 2.5, 2.3, 1.4]],
  ['GJ1289', GREEN, 13, [1.4, 1.3, 1.3, 1.4, 1.3]],
]

// per-row shared y range and labelled y ticks
const Y_TOP = [20, 10, 9.46, 8.72, 7.0, 7.0, 5.8, 5.95, 5.55, 5.87, 5.41, 5.41, 5.41, 3.95]
const Y_LABELED = [[0, 20], [0, 10], [0, 5], [0, 5], [0, 5], [0, 5], [0, 5], [0, 5], [0, 5], [0, 5], [0, 5], [0, 5], [0, 5], [0, 2]]
const X_TICKS = [6560, 6562, 6564, 6565, 6566]
const X_LABELED = [6560, 6565]
const X_GRID = [6560, 6562, 6564, 6566]

const COL_X = [54.3, 184.0, 313.5, 443.3, 573.2, 702.8]
const ROW_Y0 = 14.7
const ROW_STEP = 73.23
const PW = 116.2
const PH = 52.5
const YW = 30
const XH = 22
const MT = 10
const MR = 4

function Panel({ row, col }: { row: number; col: number }) {
  const name = STAR_ROWS[row][col]
  const flux = FLUX_ROWS[row][col]
  const extras = EXTRA_LINES.filter((e) => e[0] === name)
  const data = WAVE.map((w, i) => {
    const d: Record<string, number | null> = { w, k: flux[i] }
    extras.forEach((e, j) => {
      const v = e[3][i - e[2]]
      d['e' + j] = v === undefined ? null : v
    })
    return d
  })
  const top = Y_TOP[row]
  const grid: number[] = []
  for (let v = 2; v < top; v += 2) grid.push(v)
  const labeled = Y_LABELED[row]
  const yTicks = Array.from(new Set([...grid, ...labeled])).sort((a, b) => a - b)
  const x0 = COL_X[col]
  const y0 = ROW_Y0 + row * ROW_STEP
  const lastRow = row === STAR_ROWS.length - 1

  return (
    <>
      <div style={{ position: 'absolute', left: x0 - YW, top: y0 - MT }}>
        <LineChart
          width={YW + PW + MR}
          height={MT + PH + XH}
          data={data}
          margin={{ top: MT, right: MR, bottom: 0, left: 0 }}
        >
          <CartesianGrid horizontalValues={grid} verticalValues={X_GRID} stroke="#d2d2d2" strokeWidth={1} />
          <XAxis
            dataKey="w"
            type="number"
            domain={[6559, 6567]}
            allowDataOverflow
            ticks={X_TICKS}
            interval={0}
            height={XH}
            axisLine={false}
            tickSize={3}
            tickLine={{ stroke: '#000', strokeWidth: 0.8 }}
            tick={{ fontSize: 10.5, fill: '#000' }}
            tickFormatter={(v: number) => (lastRow && X_LABELED.includes(v) ? String(v) : '')}
          />
          <YAxis
            type="number"
            domain={[0, top]}
            allowDataOverflow
            ticks={yTicks}
            interval={0}
            width={YW}
            axisLine={false}
            tickSize={3}
            tickLine={{ stroke: '#000', strokeWidth: 0.8 }}
            tick={{ fontSize: 10.5, fill: '#000' }}
            tickFormatter={(v: number) => (col === 0 && labeled.includes(v) ? String(v) : '')}
          />
          {extras.map((e, j) => (
            <Line
              key={j}
              dataKey={'e' + j}
              stroke={e[1]}
              strokeOpacity={0.35}
              strokeWidth={1}
              dot={false}
              isAnimationActive={false}
            />
          ))}
          <Line dataKey="k" stroke="#000" strokeWidth={1.2} dot={false} isAnimationActive={false} />
        </LineChart>
      </div>
      <div
        style={{
          position: 'absolute',
          left: x0 - 0.5,
          top: y0 - 0.5,
          width: PW + 1,
          height: PH + 1,
          border: '1px solid #333',
          boxSizing: 'border-box',
          pointerEvents: 'none',
        }}
      />
      <div
        style={{
          position: 'absolute',
          left: x0,
          top: y0 + 1.3,
          width: PW,
          textAlign: 'center',
          fontSize: 10.7,
          lineHeight: '12px',
          color: '#ff0000',
          whiteSpace: 'nowrap',
        }}
      >
        {name}
      </div>
    </>
  )
}

export default function App() {
  const panels = []
  for (let r = 0; r < STAR_ROWS.length; r++) {
    for (let c = 0; c < 6; c++) panels.push(<Panel key={r * 6 + c} row={r} col={c} />)
  }
  return (
    <div
      style={{
        position: 'absolute',
        left: 0,
        top: 0,
        width: 830,
        height: 1075,
        background: '#fff',
        fontFamily: '"DejaVu Sans", sans-serif',
        overflow: 'hidden',
      }}
    >
      {panels}
      <div
        style={{
          position: 'absolute',
          left: 22.7,
          top: 535,
          transform: 'translate(-50%, -50%) rotate(-90deg)',
          fontSize: 13,
          whiteSpace: 'nowrap',
        }}
      >
        Normalized flux
      </div>
      <div
        style={{
          position: 'absolute',
          left: 437,
          top: 1059,
          transform: 'translate(-50%, -50%)',
          fontSize: 13,
          whiteSpace: 'nowrap',
        }}
      >
        Wavelength [<i>Å</i>]
      </div>
    </div>
  )
}
